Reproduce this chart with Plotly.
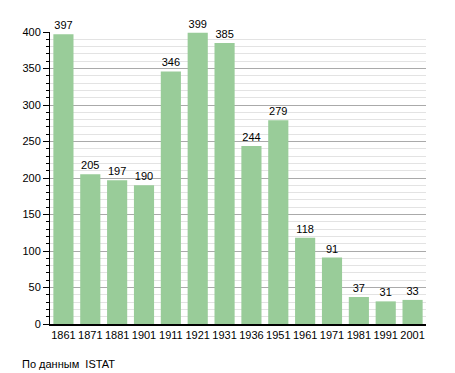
import plotly.graph_objects as go

years = ["1861", "1871", "1881", "1901", "1911", "1921", "1931", "1936", "1951", "1961", "1971", "1981", "1991", "2001"]
population = [397, 205, 197, 190, 346, 399, 385, 244, 279, 118, 91, 37, 31, 33]
y_ticks = [0, 50, 100, 150, 200, 250, 300, 350, 400]

fig = go.Figure()
fig.add_trace(go.Bar(
    x=years, y=population,
    marker=dict(color="#99CC99", line=dict(width=0)),
    text=[str(v) for v in population],
    textposition="outside",
    cliponaxis=False,
    textfont=dict(family="Liberation Sans, Arial", size=11, color="black"),
))

fig.update_layout(
    width=447, height=365,
    margin=dict(l=42, r=29, t=24, b=49),
    paper_bgcolor="white", plot_bgcolor="white",
    bargap=0.25,
    showlegend=False,
    font=dict(family="Liberation Sans, Arial", size=11, color="black"),
    xaxis=dict(
        type="category",
        showline=True, linecolor="black", linewidth=2,
        ticks="", showgrid=False,
        tickfont=dict(size=11),
    ),
    yaxis=dict(
        range=[0, 400],
        tickvals=y_ticks,
        showline=True, linecolor="black", linewidth=1,
        ticks="outside", ticklen=6, tickcolor="black",
        showgrid=True, gridcolor="#AAAAAA", gridwidth=1,
        zeroline=False,
        tickfont=dict(size=11),
        minor=dict(dtick=10, ticks="outside", ticklen=3, tickcolor="black",
                   showgrid=True, gridcolor="#E3E3E3", gridwidth=1),
    ),
    annotations=[dict(
        text="По данным  ISTAT", xref="paper", yref="paper",
        x=-0.08, y=-0.11, xanchor="left", yanchor="top",
        showarrow=False, font=dict(size=11, color="black"),
    )],
)

fig.write_html("out.html")
